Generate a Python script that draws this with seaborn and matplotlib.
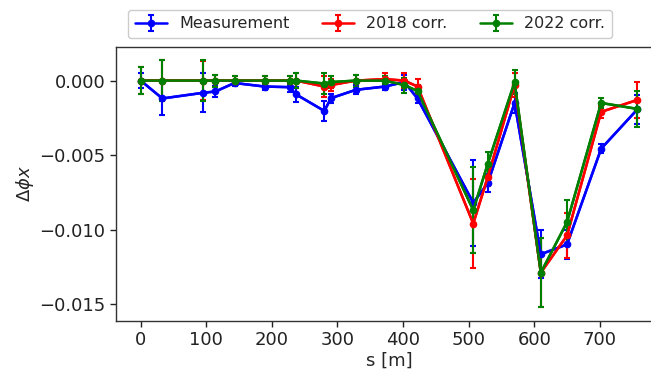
import matplotlib
matplotlib.use("Agg")
import matplotlib.pyplot as plt
import seaborn as sns
import pandas as pd

s = [0, 33, 95, 114, 143, 189, 227, 237, 280, 290, 328, 372, 402, 422,
     507, 529, 570, 610, 650, 702, 757]

meas = [0, -0.0012, -0.00082, -0.00073, -0.00016, -0.0004, -0.00044, -0.00093,
        -0.00204, -0.00118, -0.00062, -0.0004, -0.0001, -0.0012,
        -0.0082, -0.0069, -0.0015, -0.01166, -0.0110, -0.00457, -0.00194]
meas_err = [0.0005, 0.00113, 0.0013, 0.00035, 0.0002, 0.00025, 0.0003, 0.0005,
            0.0007, 0.0003, 0.0003, 0.00025, 0.0005, 0.0003,
            0.0029, 0.0006, 0.0007, 0.0016, 0.001, 0.0003, 0.001]

corr2018 = [0, 0, 0, 0, 0, 0, 0, 0,
            -0.0004, -0.0003, 0.0, 0.0001, 0.0, -0.0004,
            -0.0096, -0.0065, -0.0003, -0.0129, -0.0104, -0.0021, -0.0013]
corr2018_err = [0.0009, 0.0014, 0.0013, 0.0004, 0.0003, 0.0003, 0.0003, 0.0005,
                0.0007, 0.0004, 0.0004, 0.0004, 0.0005, 0.0005,
                0.003, 0.0006, 0.0008, 0.0023, 0.0015, 0.0004, 0.0012]

corr2022 = [0, 0, 0, 0, 0, 0, 0, 0,
            -0.0002, -0.0001, 0.0, 0.0, -0.0003, -0.0007,
            -0.0087, -0.0056, -0.0001, -0.0129, -0.0095, -0.0015, -0.0019]
corr2022_err = [0.0009, 0.0014, 0.00135, 0.0004, 0.0003, 0.0003, 0.0003, 0.0005,
                0.0007, 0.0004, 0.0004, 0.0003, 0.0005, 0.0004,
                0.0029, 0.0008, 0.0008, 0.0023, 0.0015, 0.00035, 0.0012]

labels = ["Measurement", "2018 corr.", "2022 corr."]
colors = ["blue", "red", "green"]

df = pd.DataFrame({
    "s": s * 3,
    "val": meas + corr2018 + corr2022,
    "err": meas_err + corr2018_err + corr2022_err,
    "series": [labels[0]] * len(s) + [labels[1]] * len(s) + [labels[2]] * len(s),
})

sns.set_theme(style="ticks")
plt.rcParams["font.family"] = ["DejaVu Sans"]

fig = plt.figure(figsize=(6.51, 3.72), dpi=100)
ax = fig.add_axes([0.178, 0.138, 0.839, 0.735])

handles = []
for lab, col in zip(labels, colors):
    sub = df[df["series"] == lab]
    sns.lineplot(data=sub, x="s", y="val", ax=ax, color=col, lw=1.8,
                 marker="o", markersize=4.5, markeredgewidth=0, legend=False,
                 errorbar=None)
    h = ax.errorbar(sub["s"], sub["val"], yerr=sub["err"], fmt="o", color=col,
                    ms=4.5, lw=1.8, elinewidth=1.5, capsize=2.5, capthick=1.5,
                    label=lab, ls="-")
    handles.append(h)

ax.set_xlim(-37.85, 794.85)
ax.set_ylim(-0.01612, 0.00224)
ax.set_xticks([0, 100, 200, 300, 400, 500, 600, 700])
ax.set_yticks([0.0, -0.005, -0.010, -0.015])
ax.set_yticklabels(["0.000", "\u22120.005", "\u22120.010", "\u22120.015"])
ax.tick_params(labelsize=13, length=4, width=1, colors="#222222")
ax.set_xlabel("s [m]", fontsize=13, labelpad=2)
ax.set_ylabel(r"$\Delta\phi x$", fontsize=13, labelpad=2)
for sp in ax.spines.values():
    sp.set_visible(True)
    sp.set_color("#333333")
    sp.set_linewidth(1.0)

fig.legend(handles=handles, labels=labels, loc="center",
           bbox_to_anchor=(370 / 651, 1 - 24 / 372), ncol=3, fontsize=11.5,
           frameon=True, framealpha=1, edgecolor="#cccccc",
           handlelength=2.0, columnspacing=2.0, borderpad=0.4)

fig.savefig("out.png", dpi=100)
